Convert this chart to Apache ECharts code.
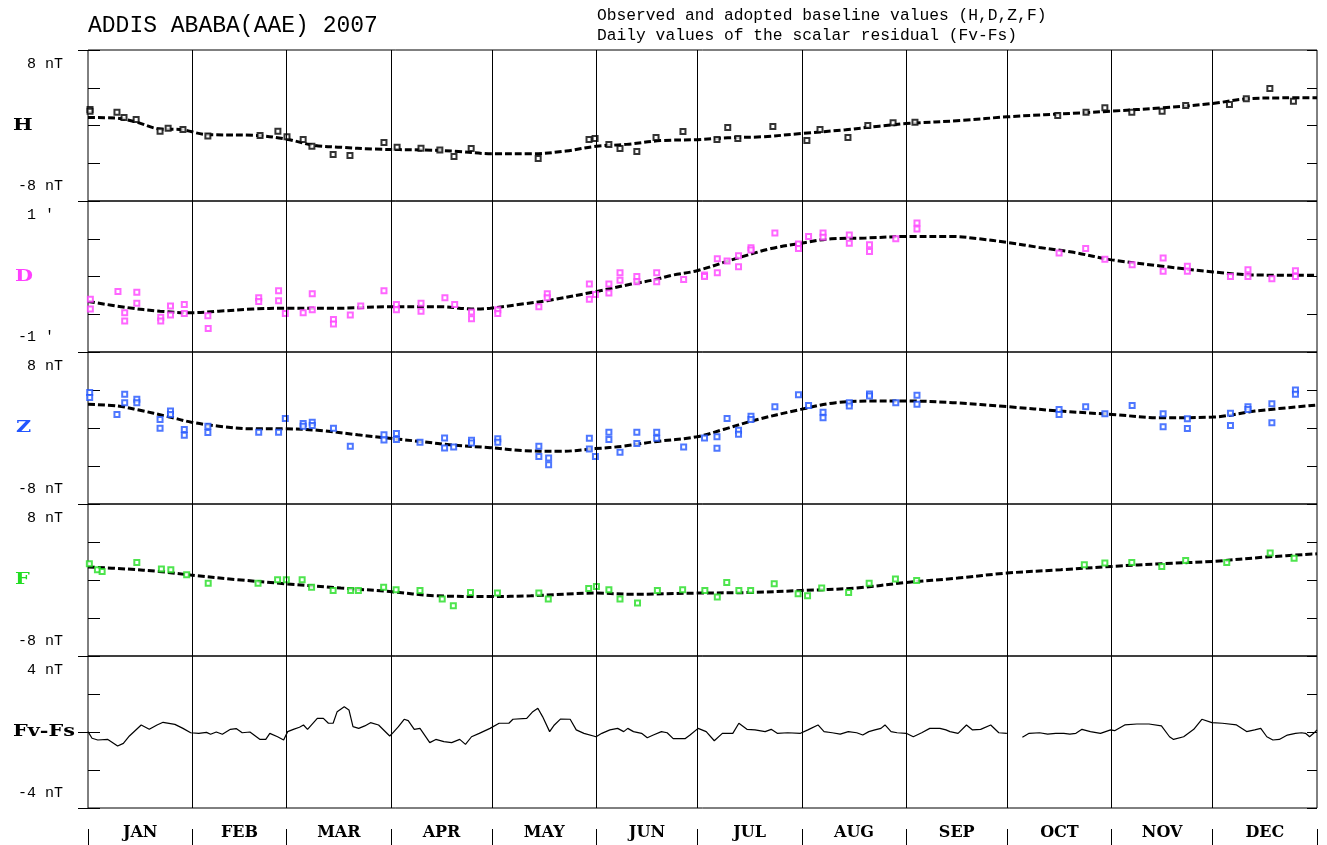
<!DOCTYPE html>
<html><head><meta charset="utf-8">
<script src="https://cdn.jsdelivr.net/npm/echarts@6/dist/echarts.min.js"></script>
<style>html,body{margin:0;padding:0;background:#fff}#c{width:1327px;height:845px}</style>
</head><body><div id="c"></div>
<script>
// ---------- DATA (day of year 0..365, values) ----------
const monthNames = ['JAN','FEB','MAR','APR','MAY','JUN','JUL','AUG','SEP','OCT','NOV','DEC'];
const monthStarts = [0,31,59,90,120,151,181,212,243,273,304,334,365];
const monthMids = [15.5,45,74.5,105,135.5,166,196.5,227.5,258,288.5,319,349.5];

const panelNames = ['H','D','Z','F','Fv-Fs'];
const panelColors = ['#000000','#ff40ff','#2255ff','#22dd22','#000000'];
const yMins = [-8,-1,-8,-8,-4];
const yMaxs = [8,1,8,8,4];
const topLabels = ['8 nT',"1 ' ",'8 nT','8 nT','4 nT'];
const bottomLabels = ['-8 nT',"-1 ' ",'-8 nT','-8 nT','-4 nT'];

const hBase = [[0,0.85],[8,0.8],[14,0.4],[21,-0.35],[28,-0.45],[35,-0.95],[50,-1.05],[59,-1.45],[67,-2.1],[75,-2.3],[85,-2.5],[100,-2.6],[110,-2.75],[120,-3.0],[132,-3.0],[142,-2.7],[151,-2.2],[160,-2.0],[170,-1.6],[181,-1.5],[190,-1.3],[200,-1.2],[212,-0.85],[225,-0.45],[235,-0.07],[243,0.2],[260,0.55],[273,0.92],[295,1.34],[304,1.52],[319,1.87],[334,2.33],[344,2.83],[355,2.93],[365,2.95]];
const hObs = [[0.6,1.7],[0.6,1.5],[8.6,1.4],[10.7,0.85],[14.3,0.64],[21.4,-0.6],[23.8,-0.3],[28.2,-0.42],[35.6,-1.1],[51.1,-1.05],[56.4,-0.6],[59.1,-1.2],[63.9,-1.48],[66.5,-2.2],[72.8,-3.07],[77.8,-3.18],[87.9,-1.8],[91.8,-2.3],[98.9,-2.4],[104.5,-2.6],[108.7,-3.28],[113.8,-2.44],[133.7,-3.5],[148.8,-1.48],[150.6,-1.38],[154.7,-2.0],[158,-2.44],[163,-2.75],[168.7,-1.27],[176.7,-0.64],[186.8,-1.48],[190,-0.21],[193,-1.38],[203.4,-0.1],[213.5,-1.59],[217.4,-0.42],[225.7,-1.27],[231.6,0],[239.1,0.3],[245.6,0.35],[288,1.06],[296.4,1.41],[302,1.87],[310,1.41],[319,1.5],[326,2.12],[339,2.22],[344,2.83],[351,3.92],[358,2.57]];

const dBase = [[0,-0.33],[11.4,-0.41],[21.4,-0.46],[30.7,-0.48],[38.8,-0.46],[48.9,-0.43],[58.6,-0.42],[73.9,-0.42],[89.5,-0.40],[105,-0.40],[113.9,-0.43],[119.5,-0.42],[128.9,-0.365],[136.4,-0.32],[150.8,-0.20],[161.4,-0.10],[168,-0.045],[173.3,0.015],[180.8,0.076],[192.6,0.24],[202.9,0.37],[211.8,0.44],[220.8,0.50],[231,0.51],[243.2,0.53],[256.8,0.53],[264.5,0.50],[273.2,0.45],[282.5,0.385],[292.7,0.32],[304.1,0.22],[318.4,0.14],[334.1,0.06],[346.6,0.02],[365,0.015]];
const dObs = [[0.7,-0.30],[0.7,-0.43],[8.9,-0.20],[10.9,-0.48],[10.9,-0.59],[14.5,-0.21],[14.5,-0.355],[21.6,-0.54],[21.6,-0.59],[24.5,-0.39],[24.5,-0.51],[28.6,-0.37],[28.6,-0.49],[35.6,-0.52],[35.7,-0.69],[50.7,-0.28],[50.7,-0.33],[56.6,-0.19],[56.6,-0.32],[58.6,-0.49],[63.9,-0.48],[66.6,-0.23],[66.6,-0.44],[72.9,-0.57],[72.9,-0.63],[77.9,-0.51],[81,-0.39],[87.9,-0.19],[91.6,-0.37],[91.6,-0.44],[98.9,-0.355],[98.9,-0.46],[106,-0.28],[108.9,-0.37],[113.9,-0.47],[113.9,-0.56],[121.7,-0.44],[121.7,-0.49],[133.9,-0.40],[136.4,-0.23],[136.4,-0.28],[148.9,-0.10],[148.9,-0.30],[150.7,-0.24],[154.7,-0.10],[154.7,-0.22],[158,0.05],[158,-0.05],[163,0.0],[163,-0.07],[168.9,0.05],[168.9,-0.07],[176.9,-0.04],[183.1,0.02],[183.1,0.0],[186.9,0.235],[186.9,0.05],[189.8,0.205],[193.2,0.275],[193.2,0.13],[196.9,0.38],[196.9,0.35],[204,0.575],[211,0.43],[211,0.37],[214,0.53],[218.3,0.575],[218.3,0.52],[226.1,0.55],[226.1,0.44],[232.1,0.42],[232.1,0.33],[239.9,0.50],[246.2,0.71],[246.2,0.63],[288.4,0.31],[296.3,0.37],[302,0.23],[310.1,0.155],[319.3,0.245],[319.3,0.07],[326.5,0.135],[326.5,0.07],[339.3,0.0],[344.5,0.09],[344.5,0.0],[351.6,-0.03],[358.6,0.075],[358.6,0.0]];

const zBase = [[0,2.49],[8.9,2.31],[15.1,1.89],[23.9,1.19],[30.7,0.61],[38.9,0.19],[48.9,-0.09],[58.6,-0.09],[68.9,-0.26],[80.1,-0.72],[89.5,-1.08],[98.9,-1.43],[108.9,-1.82],[119.5,-2.07],[128.9,-2.38],[140.1,-2.46],[150.7,-2.17],[158.9,-1.92],[168,-1.45],[180.8,-0.93],[188.7,-0.16],[197.7,0.79],[211.7,1.96],[222.1,2.67],[233.7,2.84],[243.2,2.84],[256.8,2.67],[273.2,2.24],[288.9,1.78],[304.1,1.43],[318.4,1.08],[334.1,1.15],[346.6,1.78],[365,2.42]];
const zObs = [[0.5,3.73],[0.5,3.2],[8.6,1.43],[10.9,3.55],[10.9,2.67],[14.5,3.02],[14.5,2.67],[21.4,0.9],[21.4,-0.02],[24.5,1.78],[24.5,1.43],[28.6,-0.16],[28.6,-0.76],[35.6,0.19],[35.6,-0.48],[50.7,-0.44],[56.6,-0.44],[58.6,1.0],[63.9,0.48],[63.9,0.19],[66.6,0.61],[66.6,0.26],[72.9,-0.02],[77.9,-1.92],[87.9,-0.72],[87.9,-1.25],[91.6,-0.58],[91.6,-1.22],[98.6,-1.5],[105.9,-1.04],[105.9,-2.1],[108.6,-1.99],[113.9,-1.29],[113.9,-1.57],[121.7,-1.14],[121.7,-1.5],[133.9,-1.92],[133.9,-2.99],[136.8,-3.16],[136.8,-3.87],[148.9,-1.08],[148.9,-2.2],[150.7,-2.99],[154.7,-0.44],[154.7,-1.22],[158,-2.56],[163,-0.44],[163,-1.64],[168.9,-0.44],[168.9,-1.08],[176.9,-1.99],[183.1,-1.04],[186.8,-0.93],[186.8,-2.14],[189.8,1.0],[193.2,-0.23],[193.2,-0.65],[196.9,1.25],[196.9,0.9],[204,2.24],[211,3.51],[214,2.38],[218.3,1.67],[218.3,1.08],[226.1,2.67],[226.1,2.31],[232.1,3.58],[232.1,3.37],[239.9,2.67],[246.2,3.44],[246.2,2.49],[288.4,1.96],[288.4,1.43],[296.3,2.24],[302,1.5],[310.1,2.38],[319.3,1.5],[319.3,0.13],[326.5,0.97],[326.5,-0.05],[339.3,1.54],[339.3,0.26],[344.5,2.24],[344.5,1.96],[351.6,2.56],[351.6,0.55],[358.6,4.0],[358.6,3.55]];

const fBase = [[0,1.37],[11.7,1.15],[21.1,0.9],[30.5,0.52],[44.5,0.03],[58.7,-0.40],[75.1,-0.85],[89.5,-1.21],[103.3,-1.66],[119.5,-1.74],[131.5,-1.66],[150.8,-1.38],[162,-1.5],[180.7,-1.38],[197.3,-1.31],[211.9,-1.10],[227.8,-0.85],[243.1,-0.26],[258.3,0.2],[272.9,0.73],[288.9,1.08],[304.1,1.43],[319.4,1.72],[334,1.96],[349.9,2.42],[365,2.76]];
const fObs = [[0.4,1.72],[2.8,1.08],[4.2,0.9],[14.5,1.85],[21.8,1.15],[24.6,1.08],[29.3,0.55],[35.7,-0.33],[50.5,-0.33],[56.3,0.03],[58.9,0.03],[63.6,0.03],[66.4,-0.75],[72.8,-1.10],[78,-1.10],[80.3,-1.10],[87.8,-0.75],[91.5,-1.03],[98.6,-1.10],[105.2,-2.01],[108.5,-2.72],[113.6,-1.31],[121.6,-1.38],[133.9,-1.38],[136.7,-2.01],[148.7,-0.89],[151,-0.68],[154.7,-1.03],[158,-2.01],[163.2,-2.43],[169.1,-1.10],[176.6,-1.03],[183.2,-1.10],[186.9,-1.80],[189.7,-0.26],[193.3,-1.10],[196.8,-1.10],[203.8,-0.40],[210.9,-1.45],[213.7,-1.66],[217.9,-0.85],[225.9,-1.31],[232,-0.33],[239.8,0.10],[246.1,-0.05],[295.9,1.61],[302,1.78],[310,1.85],[318.9,1.43],[326,2.06],[338.2,1.85],[351.1,2.84],[358.2,2.28]];

const fvfs = [[0,0.02],[1.2,-0.33],[2.9,-0.42],[5.9,-0.39],[8.8,-0.74],[10.5,-0.60],[12.3,-0.21],[15.8,0.37],[18.2,0.14],[20.5,0.37],[22.3,0.51],[25.8,0.40],[28.2,0.19],[30.5,-0.04],
[32.9,-0.07],[35.2,-0.02],[36.4,-0.12],[38.1,0],[39.9,-0.12],[42.3,0.14],[44.0,0.18],[45.8,-0.04],[48.1,0],[51.1,-0.39],[52.8,-0.39],[54.0,-0.07],[56.3,-0.25],[58.1,-0.42],
[59.3,0.02],[61.0,0.14],[62.8,0.25],[64.0,0.37],[65.2,0.14],[68.1,0.72],[69.9,0.72],[71.4,0.46],[72.8,0.46],[74.0,1.07],[76.1,1.33],[77.5,1.16],[78.7,0.28],[80.4,0.19],[82.2,0.32],[83.9,0.49],[86.3,0.37],[89.6,-0.21],
[90.4,-0.07],[92.2,0.28],[93.9,0.67],[95.1,0.60],[96.9,0.14],[98.6,0.19],[101.5,-0.56],[103.3,-0.39],[105.7,-0.51],[108.0,-0.56],[110.4,-0.39],[112.1,-0.65],[113.9,-0.25],[116.2,-0.07],[119.4,0.19],
[122.1,0.46],[125.0,0.46],[126.2,0.67],[130.3,0.72],[132.1,1.07],[133.6,1.25],[135.0,0.81],[137.1,0.02],[138.5,0.37],[140.3,0.68],[143.2,0.67],[145.0,0.11],[147.3,-0.07],[150.9,-0.25],
[152.6,-0.07],[155.0,0.11],[157.3,0.19],[159.1,0.02],[160.3,0.19],[162.0,0.02],[164.4,-0.07],[166.1,-0.30],[167.9,-0.16],[170.3,0.02],[172.0,-0.04],[173.8,-0.35],[177.3,-0.35],[178.8,-0.16],
[181.2,0.19],[183.6,0.02],[186.0,-0.46],[188.4,-0.07],[191.5,-0.07],[193.3,0.46],[195.7,0.14],[198.1,0.11],[201.1,0.02],[202.9,0.14],[204.7,-0.07],[207.8,-0.04],[211.6,-0.07],
[213.8,0.11],[216.8,0.37],[218.6,0.02],[221.0,-0.04],[223.4,-0.11],[225.8,0.02],[228.3,-0.04],[230.1,-0.16],[231.9,0.02],[233.7,0.11],[235.5,0.19],[236.7,0.37],[238.5,0.02],[240.3,-0.04],[243.0,-0.07],
[245.1,-0.25],[247.6,-0.04],[250.0,0.19],[253.0,0.19],[254.8,0.11],[256.0,0.02],[258.4,-0.07],[260.9,0.37],[262.7,0.11],[265.1,0.14],[268.1,0.37],[270.5,-0.04],[272.9,-0.07],
[275,null],
[277.5,-0.28],[279.5,-0.07],[282.6,-0.04],[285.0,-0.11],[287.4,-0.07],[289.8,-0.07],[291.6,-0.11],[293.4,-0.07],[295.2,0.14],[297.7,0.02],[300.7,-0.07],[303.7,0.11],[304.9,0.07],[307.9,0.37],[311.5,0.42],[315.1,0.42],[318.8,0.32],[321.2,-0.25],[322.4,-0.39],[325.4,-0.25],[328.4,0.14],[330.8,0.67],[333.8,0.49],[336.9,0.46],[341.1,0.37],[344.1,0.02],[346.5,0.11],[348.3,0.19],[350.1,-0.25],[351.9,-0.42],[353.8,-0.39],[356.2,-0.16],[358.6,-0.07],[360.4,-0.04],[361.6,-0.07],[362.8,-0.25],[364.0,-0.07],[365,0.11]];

const baselines = [hBase, dBase, zBase, fBase];
const observations = [hObs, dObs, zObs, fObs];

// ---------- LAYOUT ----------
const panelTops = [50,201,352,504,656];
const panelHeights = [151,151,152,152,152];
const GL = 88, GR = 10;
const labelFont = '"Liberation Mono", "DejaVu Sans Mono", monospace';
const boldSerif = '"DejaVu Serif", "Liberation Serif", serif';

const chart = echarts.init(document.getElementById('c'), null, {renderer:'canvas'});

const grid = [], xAxis = [], yAxis = [], series = [];
for (let i = 0; i < 5; i++) {
  grid.push({left: GL, right: GR, top: panelTops[i], height: panelHeights[i],
    show: true, borderColor: '#000', borderWidth: 1, backgroundColor: 'transparent'});
  xAxis.push({type:'value', gridIndex:i, min:0, max:365, show:false});
  const mn = yMins[i], mx = yMaxs[i], q = (mx - mn) / 4;
  yAxis.push({type:'value', gridIndex:i, min:mn, max:mx, interval:q, position:'left',
    axisLine:{show:false}, splitLine:{show:false},
    axisTick:{show:true, inside:true, length:12, lineStyle:{color:'#000', width:1}},
    axisLabel:{show:true, margin:25, color:'#000', fontFamily:labelFont, fontSize:15,
      verticalAlign:'top', padding:[7,0,0,0],
      formatter: v => (v === mx ? topLabels[i] : '')}});
  yAxis.push({type:'value', gridIndex:i, min:mn, max:mx, interval:(i === 4 ? (mx-mn)/2 : (mx-mn)), position:'left',
    axisLine:{show:false}, splitLine:{show:false},
    axisTick:{show:true, inside:false, length:10, lineStyle:{color:'#000', width:1}},
    axisLabel:{show:true, margin:25, color:'#000', fontFamily:labelFont, fontSize:15,
      verticalAlign:'bottom', padding:[0,0,7,0],
      formatter: v => (v === mn ? bottomLabels[i] : '')}});
  yAxis.push({type:'value', gridIndex:i, min:mn, max:mx, interval:q, position:'right',
    axisLine:{show:false}, splitLine:{show:false},
    axisTick:{show:true, inside:true, length:10, lineStyle:{color:'#000', width:1}},
    axisLabel:{show:false}});
}
// background grid: month lines and month names
grid.push({left: GL, right: GR, top: 50, height: 758, show:false});
xAxis.push({type:'value', gridIndex:5, min:0, max:365, position:'bottom', offset:20,
  axisLine:{show:false}, splitLine:{show:false}, axisTick:{show:false},
  axisLabel:{show:true, customValues: monthMids, margin:-3, color:'#000',
    fontFamily: boldSerif, fontWeight:'bold', fontSize:16,
    formatter: v => monthNames[monthMids.indexOf(v)] || ''}});
yAxis.push({type:'value', gridIndex:5, min:0, max:1, show:false});
// small strip below the plots for the month separator ticks
grid.push({left: GL, right: GR, top: 829, height: 16, show:false});
xAxis.push({type:'value', gridIndex:6, min:0, max:365, show:false});
yAxis.push({type:'value', gridIndex:6, min:0, max:1, show:false});

series.push({type:'line', xAxisIndex:5, yAxisIndex:15, data: monthStarts.map(d => [d, 0]),
  symbol:'none', lineStyle:{opacity:0}, silent:true, z:1,
  markLine:{silent:true, symbol:'none', label:{show:false}, animation:false,
    lineStyle:{color:'#000', width:1, type:'solid'},
    data: monthStarts.slice(1, -1).map(d => ({xAxis: d}))}});
series.push({type:'line', xAxisIndex:6, yAxisIndex:16, data: monthStarts.map(d => [d, 0]),
  symbol:'none', lineStyle:{opacity:0}, silent:true, z:1,
  markLine:{silent:true, symbol:'none', label:{show:false}, animation:false,
    lineStyle:{color:'#000', width:1, type:'solid'},
    data: monthStarts.map(d => ({xAxis: d}))}});

for (let i = 0; i < 4; i++) {
  series.push({type:'line', xAxisIndex:i, yAxisIndex:3*i, data: baselines[i], smooth:0.35,
    symbol:'none', z:3, lineStyle:{color:'#000', width:3, type:[7,3], cap:'butt'}});
  series.push({type:'scatter', xAxisIndex:i, yAxisIndex:3*i, data: observations[i], z:4,
    symbol:'emptyRect', symbolSize:5,
    itemStyle:{color: panelColors[i], borderColor: panelColors[i], borderWidth:1.3}});
}
series.push({type:'line', xAxisIndex:4, yAxisIndex:12, data: fvfs, symbol:'none', connectNulls:false,
  z:3, lineStyle:{color:'#000', width:1.2}});

const graphic = [
  {type:'text', left:88, top:14, style:{text:'ADDIS ABABA(AAE) 2007', font:'23px "Liberation Mono", monospace', fill:'#000'}},
  {type:'text', left:597, top:8, style:{text:'Observed and adopted baseline values (H,D,Z,F)', font:'16.3px "Liberation Mono", monospace', fill:'#000'}},
  {type:'text', left:597, top:28, style:{text:'Daily values of the scalar residual (Fv-Fs)', font:'16.3px "Liberation Mono", monospace', fill:'#000'}}
];
const nameLeft = [13,15,16,15,13];
for (let i = 0; i < 5; i++) {
  const cy = panelTops[i] + panelHeights[i] / 2;
  graphic.push({type:'text', x: nameLeft[i], y: cy, scaleX: 1.3,
    style:{text: panelNames[i], font:'bold 16px "DejaVu Serif", serif', fill: panelColors[i],
      textVerticalAlign:'middle', verticalAlign:'middle'}});
}

chart.setOption({
  animation:false,
  backgroundColor:'#fff',
  grid, xAxis, yAxis, series, graphic
});
</script></body></html>
